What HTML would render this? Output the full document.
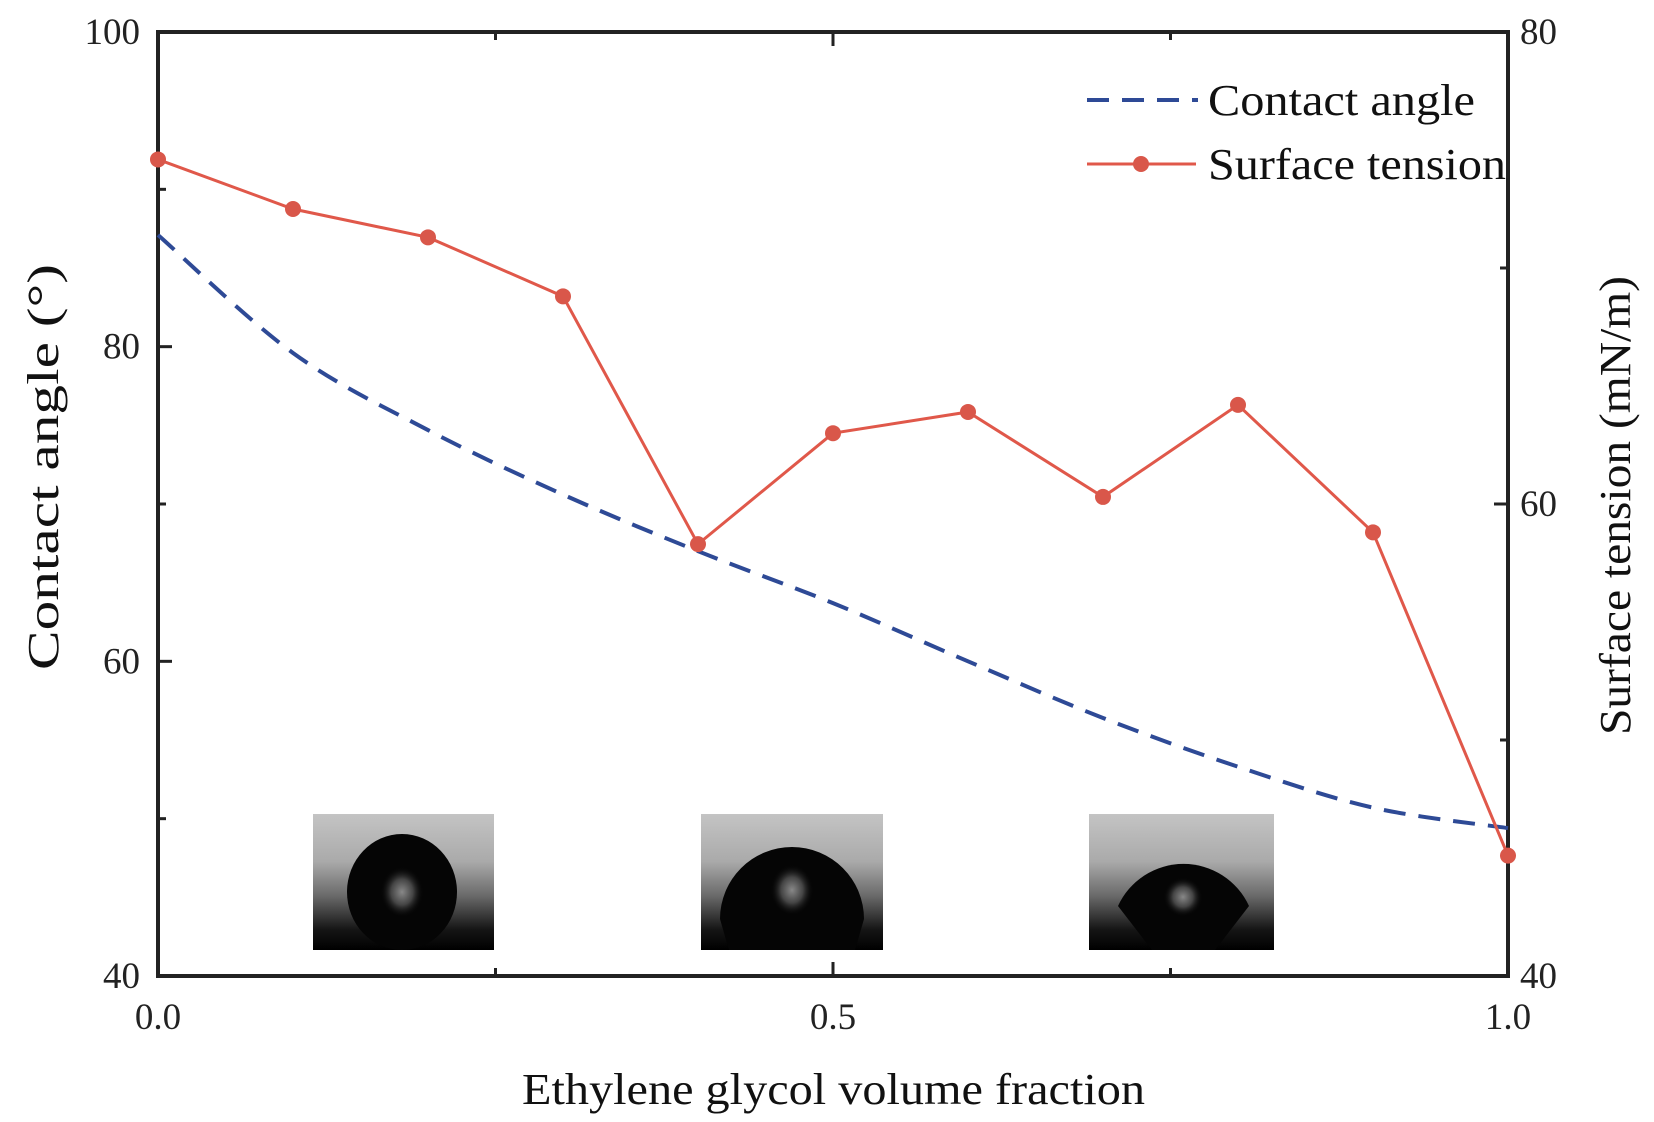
<!DOCTYPE html>
<html><head><meta charset="utf-8"><style>
html,body{margin:0;padding:0;background:#fff;}
svg{display:block;font-family:"Liberation Serif",serif;}
</style></head><body>
<svg id="chart" width="1654" height="1122" viewBox="0 0 1654 1122">
<defs>
<linearGradient id="bg" x1="0" y1="0" x2="0" y2="1">
<stop offset="0" stop-color="#c4c4c4"/><stop offset="0.35" stop-color="#aaa"/><stop offset="0.6" stop-color="#6a6a6a"/><stop offset="0.85" stop-color="#151515"/><stop offset="1" stop-color="#000"/>
</linearGradient>
<radialGradient id="hl" cx="0.5" cy="0.5" r="0.5">
<stop offset="0" stop-color="#888"/><stop offset="0.5" stop-color="#444"/><stop offset="1" stop-color="#000" stop-opacity="0"/>
</radialGradient>
</defs>
<g id="insets">
<g>
<rect x="313" y="814" width="181" height="136" fill="url(#bg)"/>
<ellipse cx="402" cy="892" rx="55" ry="58" fill="#050505"/>
<ellipse cx="402" cy="892" rx="22" ry="26" fill="url(#hl)"/>
</g>
<g>
<rect x="701" y="814" width="182" height="136" fill="url(#bg)"/>
<path d="M720 919 A66 66 0 1 1 864 919 L855 950 L729 950 Z" fill="#050505"/>
<ellipse cx="792" cy="890" rx="22" ry="26" fill="url(#hl)"/>
</g>
<g>
<rect x="1089" y="814" width="185" height="136" fill="url(#bg)"/>
<path d="M1118 906 A72 72 0 0 1 1249 906 L1215 950 L1152 950 Z" fill="#050505"/>
<ellipse cx="1183" cy="897" rx="20" ry="20" fill="url(#hl)"/>
</g>
</g>
<g id="axes"></g>
<g id="series"></g>
<g id="legend">
<line x1="1087" y1="100" x2="1198" y2="100" stroke="#2e4a96" stroke-width="4" stroke-dasharray="22,13"/>
<text x="1208" y="115" font-size="44" textLength="267" lengthAdjust="spacingAndGlyphs" fill="#111">Contact angle</text>
<line x1="1087" y1="164" x2="1196" y2="164" stroke="#e0584a" stroke-width="3"/>
<circle cx="1141" cy="164" r="8" fill="#d9574a"/>
<text x="1208" y="179" font-size="44" textLength="298" lengthAdjust="spacingAndGlyphs" fill="#111">Surface tension</text>
</g>
<text x="522" y="1104" font-size="44" textLength="623" lengthAdjust="spacingAndGlyphs" fill="#111">Ethylene glycol volume fraction</text>
<text transform="translate(58,670) rotate(-90)" font-size="44" textLength="406" lengthAdjust="spacingAndGlyphs" fill="#111">Contact angle (°)</text>
<text transform="translate(1630,735) rotate(-90)" font-size="44" textLength="459" lengthAdjust="spacingAndGlyphs" fill="#111">Surface tension (mN/m)</text>
</svg>
<script>
const xFractions = [0,0.1,0.2,0.3,0.4,0.5,0.6,0.7,0.8,0.9,1.0];
const surfaceTension = [74.6,72.5,71.3,68.8,58.3,63.0,63.9,60.3,64.2,58.8,45.1];
const contactAngle = [87.1,79.6,74.7,70.6,67.0,63.7,60.0,56.4,53.3,50.7,49.4];
const xTicks = [0,0.5,1.0];
const xTickLabels = ["0.0","0.5","1.0"];
const xMinor = [0.25,0.75];
const leftTicks = [40,60,80,100];
const leftMinor = [50,70,90];
const rightTicks = [40,60,80];
const rightMinor = [50,70];

const L=158,R=1508,T=32,B=976;
const NS="http://www.w3.org/2000/svg";
const xs=v=>L+(v-0)/(1-0)*(R-L);
const yl=v=>B-(v-40)/(100-40)*(B-T);
const yr=v=>B-(v-40)/(80-40)*(B-T);
function mk(tag,attrs,parent){const e=document.createElementNS(NS,tag);for(const k in attrs)e.setAttribute(k,attrs[k]);parent.appendChild(e);return e;}
const ax=document.getElementById('axes');
const frame=mk('rect',{x:L,y:T,width:R-L,height:B-T,fill:'none',stroke:'#222','stroke-width':4},ax);


xTicks.forEach((v,i)=>{
  const t1=mk('line',{x1:xs(v),x2:xs(v),y1:B,y2:B-14,stroke:'#222','stroke-width':3},ax);
  
  
  const t2=mk('line',{x1:xs(v),x2:xs(v),y1:T,y2:T+14,stroke:'#222','stroke-width':3},ax);
  
  
  const tx=mk('text',{x:xs(v),y:B+53,'font-size':37,'text-anchor':'middle',fill:'#222'},ax);
  tx.textContent=xTickLabels[i];
  
  
});
xMinor.forEach(v=>{
  const t1=mk('line',{x1:xs(v),x2:xs(v),y1:B,y2:B-8,stroke:'#222','stroke-width':3},ax);
  
  
  const t2=mk('line',{x1:xs(v),x2:xs(v),y1:T,y2:T+8,stroke:'#222','stroke-width':3},ax);
  
  
});
leftTicks.forEach(v=>{
  const t=mk('line',{x1:L,x2:L+14,y1:yl(v),y2:yl(v),stroke:'#222','stroke-width':3},ax);
  
  
  const tx=mk('text',{x:L-18,y:yl(v)+12,'font-size':37,'text-anchor':'end',fill:'#222'},ax);
  tx.textContent=String(v);
  
  
});
leftMinor.forEach(v=>{
  const t=mk('line',{x1:L,x2:L+8,y1:yl(v),y2:yl(v),stroke:'#222','stroke-width':3},ax);
  
  
});
rightTicks.forEach(v=>{
  const t=mk('line',{x1:R,x2:R-14,y1:yr(v),y2:yr(v),stroke:'#222','stroke-width':3},ax);
  
  
  const tx=mk('text',{x:R+12,y:yr(v)+12,'font-size':37,'text-anchor':'start',fill:'#222'},ax);
  tx.textContent=String(v);
  
  
});
rightMinor.forEach(v=>{
  const t=mk('line',{x1:R,x2:R-8,y1:yr(v),y2:yr(v),stroke:'#222','stroke-width':3},ax);
  
  
});
const sr=document.getElementById('series');
const pts=xFractions.map((x,i)=>[xs(x),yl(contactAngle[i])]);
let d='M'+pts[0][0]+' '+pts[0][1];
for(let i=0;i<pts.length-1;i++){
  const p0=pts[Math.max(0,i-1)],p1=pts[i],p2=pts[i+1],p3=pts[Math.min(pts.length-1,i+2)];
  const c1=[p1[0]+(p2[0]-p0[0])/6,p1[1]+(p2[1]-p0[1])/6];
  const c2=[p2[0]-(p3[0]-p1[0])/6,p2[1]-(p3[1]-p1[1])/6];
  d+=` C${c1[0]} ${c1[1]} ${c2[0]} ${c2[1]} ${p2[0]} ${p2[1]}`;
}
const ca=mk('path',{d:d,fill:'none',stroke:'#2e4a96','stroke-width':4,'stroke-dasharray':'22,13'},sr);


const st=mk('polyline',{points:xFractions.map((x,i)=>xs(x)+','+yr(surfaceTension[i])).join(' '),fill:'none',stroke:'#e0584a','stroke-width':3},sr);


xFractions.forEach((x,i)=>{
  const c=mk('circle',{cx:xs(x),cy:yr(surfaceTension[i]),r:8,fill:'#d9574a'},sr);
  
  
});
</script>
</body></html>
